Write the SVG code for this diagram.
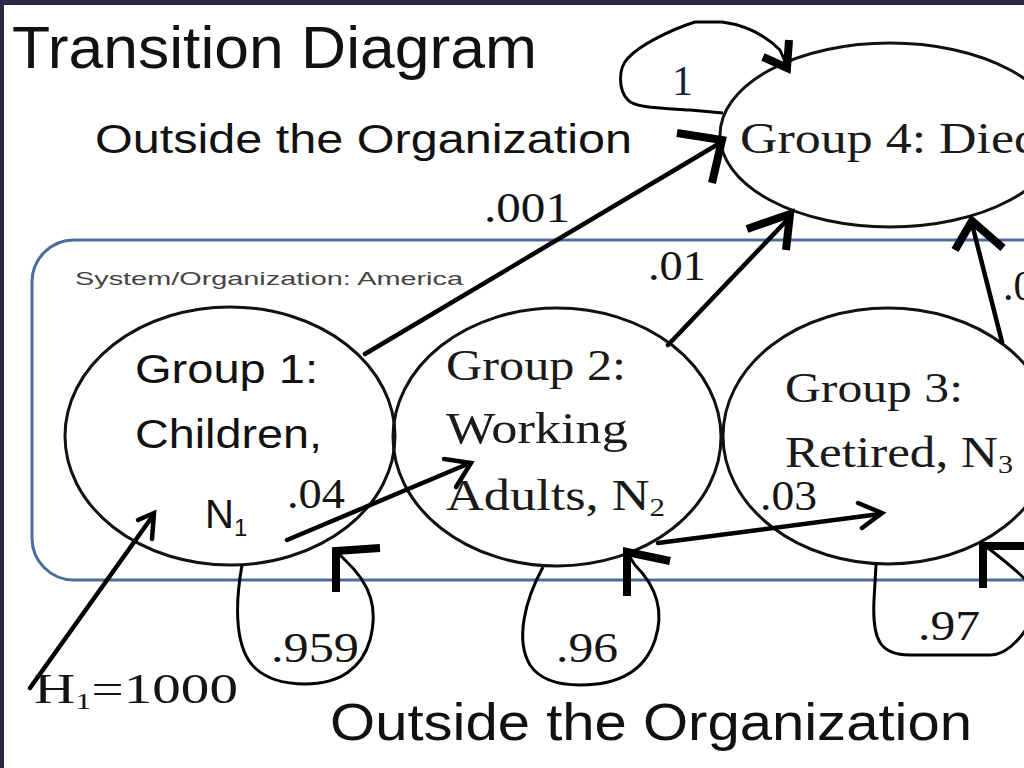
<svg xmlns="http://www.w3.org/2000/svg" width="1024" height="768" viewBox="0 0 1024 768">
<style>
.sans{font-family:"Liberation Sans","DejaVu Sans",sans-serif;fill:#111}
.serif{font-family:"Liberation Serif","DejaVu Serif",serif;fill:#1a1a1a}
.node{fill:#fff;stroke:#111;stroke-width:3}
.line{fill:none;stroke:#000;stroke-width:4.5;stroke-linecap:round;stroke-linejoin:round}
.loop{fill:none;stroke:#000;stroke-width:3;stroke-linejoin:round}
.head{fill:none;stroke:#000;stroke-width:8;stroke-linecap:butt;stroke-linejoin:miter}
.vee{fill:none;stroke:#000;stroke-width:4.5;stroke-linecap:round;stroke-linejoin:miter}
.lbl{font-family:"Liberation Serif","DejaVu Serif",serif;font-size:42px;fill:#141414}
</style>
<rect x="0" y="0" width="1024" height="768" fill="#fff"/>
<rect x="0" y="0" width="1024" height="5" fill="#2b2a45"/>
<rect x="0" y="0" width="4" height="768" fill="#2b2a45"/>

<text class="sans" x="12" y="68" font-size="60" textLength="525" lengthAdjust="spacingAndGlyphs">Transition Diagram</text>
<text class="sans" x="95" y="153" font-size="40" textLength="537" lengthAdjust="spacingAndGlyphs">Outside the Organization</text>
<text class="sans" x="330" y="740" font-size="52" textLength="642" lengthAdjust="spacingAndGlyphs">Outside the Organization</text>

<g id="system">
<rect x="32" y="240" width="1100" height="340" rx="42" ry="42" fill="none" stroke="#4a6d9c" stroke-width="3"/>
<text class="sans" x="75" y="285" font-size="18" style="fill:#444" textLength="388" lengthAdjust="spacingAndGlyphs">System/Organization: America</text>
</g>

<g id="group4">
<ellipse class="node" cx="890" cy="135" rx="170" ry="92"/>
<text class="serif" x="740" y="153" font-size="44" textLength="300" lengthAdjust="spacingAndGlyphs">Group 4: Died</text>
</g>

<g id="group1">
<ellipse class="node" cx="230" cy="436" rx="165" ry="129"/>
<text class="sans" x="135" y="383" font-size="40" textLength="183" lengthAdjust="spacingAndGlyphs">Group 1:</text>
<text class="sans" x="135" y="448" font-size="40" textLength="187" lengthAdjust="spacingAndGlyphs">Children,</text>
<text class="sans" x="205" y="528" font-size="40">N<tspan font-size="24" dy="8">1</tspan></text>
</g>

<g id="group2">
<ellipse class="node" cx="557" cy="437" rx="164" ry="129" style="fill:none"/>
<text class="serif" x="446" y="380" font-size="44" textLength="180" lengthAdjust="spacingAndGlyphs">Group 2:</text>
<text class="serif" x="446" y="443" font-size="44" textLength="182" lengthAdjust="spacingAndGlyphs">Working</text>
<text class="serif" x="446" y="510" font-size="44" textLength="219" lengthAdjust="spacingAndGlyphs">Adults, N<tspan font-size="26" dy="6">2</tspan></text>
</g>

<g id="group3">
<ellipse class="node" cx="888" cy="436" rx="165" ry="128" style="fill:none"/>
<text class="serif" x="785" y="402" font-size="42" textLength="178" lengthAdjust="spacingAndGlyphs">Group 3:</text>
<text class="serif" x="785" y="467" font-size="44" textLength="228" lengthAdjust="spacingAndGlyphs">Retired, N<tspan font-size="26" dy="6">3</tspan></text>
</g>

<g id="connectors">
<!-- self loop on Group 4 -->
<path class="loop" d="M723,113 L690,110 C660,108 635,108 628,100 C618,90 618,68 628,58 C640,45 670,30 695,22 L722,22 C745,25 765,35 780,50 L787,66"/>
<polyline class="head" points="789,40 787,68 763,57"/>
<!-- .001 Group 1 -> Group 4 -->
<line class="line" x1="365" y1="354" x2="720" y2="143"/>
<polyline class="head" points="677,133 722,140 712,183"/>
<!-- .01 Group 2 -> Group 4 -->
<line class="line" x1="668" y1="345" x2="790" y2="217"/>
<polyline class="head" points="747,229 790,214 786,250"/>
<!-- .03 Group 3 -> Group 4 -->
<line class="line" x1="1002" y1="342" x2="972" y2="224"/>
<polyline class="head" points="955,250 972,221 1003,248"/>
<!-- .04 Group 1 -> Group 2 -->
<line class="line" x1="287" y1="540" x2="470" y2="463"/>
<polyline class="vee" points="444,459 471,463 456,487"/>
<!-- .03 Group 2 -> Group 3 -->
<line class="line" x1="658" y1="543" x2="880" y2="514"/>
<polyline class="vee" points="858,503 882,513 862,528"/>
<!-- H1 input -->
<line class="line" x1="30" y1="688" x2="152" y2="517"/>
<polyline class="vee" points="138,520 154,513 152,539"/>
<!-- .959 loop -->
<path class="loop" d="M242,565 C234,610 236,650 255,668 C268,680 285,684 305,684 C340,684 362,668 370,640 C378,610 372,585 345,560 L338,553"/>
<polyline class="head" points="336,592 336,551 380,548"/>
<!-- .96 loop -->
<path class="loop" d="M543,567 C525,600 515,640 530,665 C540,680 558,685 580,685 C620,685 645,670 655,640 C665,610 655,585 635,565 L627,553"/>
<polyline class="head" points="627,596 627,552 670,561"/>
<!-- .97 loop -->
<path class="loop" d="M876,565 L874,600 C872,640 880,655 910,655 L990,655 C1010,655 1030,630 1040,600 C1035,585 1010,565 988,548"/>
<polyline class="head" points="983,588 983,546 1030,546"/>
</g>

<g id="labels">
<text class="lbl" x="672" y="95" font-size="38" style="fill:#14213d">1</text>
<text class="lbl" x="484" y="222" textLength="86" lengthAdjust="spacingAndGlyphs">.001</text>
<text class="lbl" x="648" y="280" textLength="58" lengthAdjust="spacingAndGlyphs">.01</text>
<text class="lbl" x="287" y="508" textLength="58" lengthAdjust="spacingAndGlyphs">.04</text>
<text class="lbl" x="760" y="510" textLength="57" lengthAdjust="spacingAndGlyphs">.03</text>
<text class="lbl" x="1003" y="300">.03</text>
<text class="lbl" x="271" y="662" textLength="88" lengthAdjust="spacingAndGlyphs">.959</text>
<text class="lbl" x="556" y="662" textLength="62" lengthAdjust="spacingAndGlyphs">.96</text>
<text class="lbl" x="918" y="640" textLength="62" lengthAdjust="spacingAndGlyphs">.97</text>
<text class="lbl" x="34" y="703" textLength="204" lengthAdjust="spacingAndGlyphs">H<tspan font-size="24" dy="6">1</tspan><tspan dy="-6">=1000</tspan></text>
</g>
</svg>
